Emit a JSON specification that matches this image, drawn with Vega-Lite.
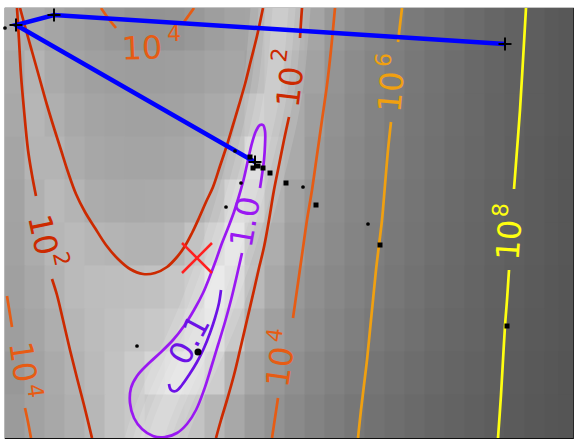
{
"$schema": "https://vega.github.io/schema/vega-lite/v6.json",
"width": 568, "height": 430,
"autosize": {"type": "none"},
"padding": {"left": 5, "top": 8, "right": 2, "bottom": 4},
"background": "white",
"config": {"view": {"stroke": "#111", "strokeWidth": 1.2}},
"encoding": {
  "x": {"field": "x", "type": "quantitative", "scale": {"domain": [5, 573], "nice": false, "zero": false}, "axis": null},
  "y": {"field": "y", "type": "quantitative", "scale": {"domain": [8, 438], "nice": false, "zero": false, "reverse": true}, "axis": null}
},
"datasets": {
"bg": [
{"x":15,"y":29.5,"g":175},{"x":35,"y":29.5,"g":172},{"x":55,"y":29.5,"g":165},{"x":75,"y":29.5,"g":160},{"x":95,"y":29.5,"g":156},{"x":115,"y":29.5,"g":152},{"x":135,"y":29.5,"g":148},{"x":155,"y":29.5,"g":147},{"x":175,"y":29.5,"g":148},{"x":195,"y":29.5,"g":152},{"x":215,"y":29.5,"g":158},{"x":235,"y":29.5,"g":163},{"x":255,"y":29.5,"g":164},{"x":275,"y":29.5,"g":172},{"x":295,"y":29.5,"g":170},{"x":315,"y":29.5,"g":165},{"x":335,"y":29.5,"g":152},{"x":355,"y":29.5,"g":143},{"x":375,"y":29.5,"g":136},{"x":395,"y":29.5,"g":128},{"x":415,"y":29.5,"g":122},{"x":435,"y":29.5,"g":117},{"x":455,"y":29.5,"g":112},{"x":475,"y":29.5,"g":107},{"x":495,"y":29.5,"g":102},{"x":515,"y":29.5,"g":98},{"x":535,"y":29.5,"g":94},{"x":555,"y":29.5,"g":90},{"x":569,"y":29.5,"g":88},
{"x":15,"y":72.5,"g":170},{"x":35,"y":72.5,"g":180},{"x":55,"y":72.5,"g":170},{"x":75,"y":72.5,"g":164},{"x":95,"y":72.5,"g":160},{"x":115,"y":72.5,"g":158},{"x":135,"y":72.5,"g":157},{"x":155,"y":72.5,"g":157},{"x":175,"y":72.5,"g":158},{"x":195,"y":72.5,"g":160},{"x":215,"y":72.5,"g":164},{"x":235,"y":72.5,"g":166},{"x":255,"y":72.5,"g":162},{"x":275,"y":72.5,"g":172},{"x":295,"y":72.5,"g":164},{"x":315,"y":72.5,"g":162},{"x":335,"y":72.5,"g":148},{"x":355,"y":72.5,"g":140},{"x":375,"y":72.5,"g":133},{"x":395,"y":72.5,"g":126},{"x":415,"y":72.5,"g":120},{"x":435,"y":72.5,"g":115},{"x":455,"y":72.5,"g":110},{"x":475,"y":72.5,"g":105},{"x":495,"y":72.5,"g":101},{"x":515,"y":72.5,"g":97},{"x":535,"y":72.5,"g":93},{"x":555,"y":72.5,"g":90},{"x":569,"y":72.5,"g":88},
{"x":15,"y":115.5,"g":168},{"x":35,"y":115.5,"g":182},{"x":55,"y":115.5,"g":175},{"x":75,"y":115.5,"g":168},{"x":95,"y":115.5,"g":164},{"x":115,"y":115.5,"g":162},{"x":135,"y":115.5,"g":161},{"x":155,"y":115.5,"g":161},{"x":175,"y":115.5,"g":162},{"x":195,"y":115.5,"g":165},{"x":215,"y":115.5,"g":170},{"x":235,"y":115.5,"g":174},{"x":255,"y":115.5,"g":180},{"x":275,"y":115.5,"g":170},{"x":295,"y":115.5,"g":170},{"x":315,"y":115.5,"g":158},{"x":335,"y":115.5,"g":146},{"x":355,"y":115.5,"g":138},{"x":375,"y":115.5,"g":131},{"x":395,"y":115.5,"g":125},{"x":415,"y":115.5,"g":119},{"x":435,"y":115.5,"g":114},{"x":455,"y":115.5,"g":109},{"x":475,"y":115.5,"g":105},{"x":495,"y":115.5,"g":100},{"x":515,"y":115.5,"g":97},{"x":535,"y":115.5,"g":93},{"x":555,"y":115.5,"g":90},{"x":569,"y":115.5,"g":88},
{"x":15,"y":158.5,"g":165},{"x":35,"y":158.5,"g":180},{"x":55,"y":158.5,"g":180},{"x":75,"y":158.5,"g":172},{"x":95,"y":158.5,"g":167},{"x":115,"y":158.5,"g":165},{"x":135,"y":158.5,"g":164},{"x":155,"y":158.5,"g":164},{"x":175,"y":158.5,"g":166},{"x":195,"y":158.5,"g":170},{"x":215,"y":158.5,"g":177},{"x":235,"y":158.5,"g":181},{"x":255,"y":158.5,"g":205},{"x":275,"y":158.5,"g":177},{"x":295,"y":158.5,"g":170},{"x":315,"y":158.5,"g":155},{"x":335,"y":158.5,"g":144},{"x":355,"y":158.5,"g":136},{"x":375,"y":158.5,"g":130},{"x":395,"y":158.5,"g":124},{"x":415,"y":158.5,"g":118},{"x":435,"y":158.5,"g":113},{"x":455,"y":158.5,"g":108},{"x":475,"y":158.5,"g":104},{"x":495,"y":158.5,"g":100},{"x":515,"y":158.5,"g":96},{"x":535,"y":158.5,"g":92},{"x":555,"y":158.5,"g":89},{"x":569,"y":158.5,"g":87},
{"x":15,"y":201.5,"g":163},{"x":35,"y":201.5,"g":176},{"x":55,"y":201.5,"g":185},{"x":75,"y":201.5,"g":180},{"x":95,"y":201.5,"g":172},{"x":115,"y":201.5,"g":170},{"x":135,"y":201.5,"g":169},{"x":155,"y":201.5,"g":170},{"x":175,"y":201.5,"g":172},{"x":195,"y":201.5,"g":177},{"x":215,"y":201.5,"g":186},{"x":235,"y":201.5,"g":203},{"x":255,"y":201.5,"g":196},{"x":275,"y":201.5,"g":178},{"x":295,"y":201.5,"g":162},{"x":315,"y":201.5,"g":150},{"x":335,"y":201.5,"g":141},{"x":355,"y":201.5,"g":134},{"x":375,"y":201.5,"g":128},{"x":395,"y":201.5,"g":122},{"x":415,"y":201.5,"g":117},{"x":435,"y":201.5,"g":112},{"x":455,"y":201.5,"g":107},{"x":475,"y":201.5,"g":103},{"x":495,"y":201.5,"g":99},{"x":515,"y":201.5,"g":95},{"x":535,"y":201.5,"g":92},{"x":555,"y":201.5,"g":89},{"x":569,"y":201.5,"g":87},
{"x":15,"y":244.5,"g":162},{"x":35,"y":244.5,"g":172},{"x":55,"y":244.5,"g":182},{"x":75,"y":244.5,"g":186},{"x":95,"y":244.5,"g":182},{"x":115,"y":244.5,"g":180},{"x":135,"y":244.5,"g":178},{"x":155,"y":244.5,"g":178},{"x":175,"y":244.5,"g":182},{"x":195,"y":244.5,"g":194},{"x":215,"y":244.5,"g":203},{"x":235,"y":244.5,"g":217},{"x":255,"y":244.5,"g":183},{"x":275,"y":244.5,"g":173},{"x":295,"y":244.5,"g":158},{"x":315,"y":244.5,"g":147},{"x":335,"y":244.5,"g":139},{"x":355,"y":244.5,"g":132},{"x":375,"y":244.5,"g":126},{"x":395,"y":244.5,"g":121},{"x":415,"y":244.5,"g":116},{"x":435,"y":244.5,"g":111},{"x":455,"y":244.5,"g":106},{"x":475,"y":244.5,"g":102},{"x":495,"y":244.5,"g":98},{"x":515,"y":244.5,"g":95},{"x":535,"y":244.5,"g":92},{"x":555,"y":244.5,"g":89},{"x":569,"y":244.5,"g":87},
{"x":15,"y":287.5,"g":160},{"x":35,"y":287.5,"g":168},{"x":55,"y":287.5,"g":178},{"x":75,"y":287.5,"g":186},{"x":95,"y":287.5,"g":189},{"x":115,"y":287.5,"g":190},{"x":135,"y":287.5,"g":191},{"x":155,"y":287.5,"g":193},{"x":175,"y":287.5,"g":198},{"x":195,"y":287.5,"g":204},{"x":215,"y":287.5,"g":222},{"x":235,"y":287.5,"g":209},{"x":255,"y":287.5,"g":185},{"x":275,"y":287.5,"g":168},{"x":295,"y":287.5,"g":152},{"x":315,"y":287.5,"g":143},{"x":335,"y":287.5,"g":136},{"x":355,"y":287.5,"g":130},{"x":375,"y":287.5,"g":124},{"x":395,"y":287.5,"g":119},{"x":415,"y":287.5,"g":114},{"x":435,"y":287.5,"g":109},{"x":455,"y":287.5,"g":105},{"x":475,"y":287.5,"g":101},{"x":495,"y":287.5,"g":97},{"x":515,"y":287.5,"g":94},{"x":535,"y":287.5,"g":91},{"x":555,"y":287.5,"g":88},{"x":569,"y":287.5,"g":86},
{"x":15,"y":330.5,"g":158},{"x":35,"y":330.5,"g":165},{"x":55,"y":330.5,"g":174},{"x":75,"y":330.5,"g":182},{"x":95,"y":330.5,"g":188},{"x":115,"y":330.5,"g":192},{"x":135,"y":330.5,"g":196},{"x":155,"y":330.5,"g":200},{"x":175,"y":330.5,"g":204},{"x":195,"y":330.5,"g":210},{"x":215,"y":330.5,"g":218},{"x":235,"y":330.5,"g":200},{"x":255,"y":330.5,"g":175},{"x":275,"y":330.5,"g":160},{"x":295,"y":330.5,"g":148},{"x":315,"y":330.5,"g":140},{"x":335,"y":330.5,"g":133},{"x":355,"y":330.5,"g":127},{"x":375,"y":330.5,"g":121},{"x":395,"y":330.5,"g":116},{"x":415,"y":330.5,"g":112},{"x":435,"y":330.5,"g":107},{"x":455,"y":330.5,"g":103},{"x":475,"y":330.5,"g":100},{"x":495,"y":330.5,"g":96},{"x":515,"y":330.5,"g":93},{"x":535,"y":330.5,"g":90},{"x":555,"y":330.5,"g":88},{"x":569,"y":330.5,"g":86},
{"x":15,"y":373.5,"g":152},{"x":35,"y":373.5,"g":162},{"x":55,"y":373.5,"g":170},{"x":75,"y":373.5,"g":178},{"x":95,"y":373.5,"g":186},{"x":115,"y":373.5,"g":194},{"x":135,"y":373.5,"g":203},{"x":155,"y":373.5,"g":213},{"x":175,"y":373.5,"g":217},{"x":195,"y":373.5,"g":216},{"x":215,"y":373.5,"g":205},{"x":235,"y":373.5,"g":180},{"x":255,"y":373.5,"g":165},{"x":275,"y":373.5,"g":152},{"x":295,"y":373.5,"g":143},{"x":315,"y":373.5,"g":135},{"x":335,"y":373.5,"g":129},{"x":355,"y":373.5,"g":123},{"x":375,"y":373.5,"g":117},{"x":395,"y":373.5,"g":113},{"x":415,"y":373.5,"g":109},{"x":435,"y":373.5,"g":105},{"x":455,"y":373.5,"g":101},{"x":475,"y":373.5,"g":98},{"x":495,"y":373.5,"g":95},{"x":515,"y":373.5,"g":92},{"x":535,"y":373.5,"g":89},{"x":555,"y":373.5,"g":87},{"x":569,"y":373.5,"g":85},
{"x":15,"y":416.5,"g":155},{"x":35,"y":416.5,"g":162},{"x":55,"y":416.5,"g":168},{"x":75,"y":416.5,"g":175},{"x":95,"y":416.5,"g":183},{"x":115,"y":416.5,"g":194},{"x":135,"y":416.5,"g":200},{"x":155,"y":416.5,"g":193},{"x":175,"y":416.5,"g":193},{"x":195,"y":416.5,"g":195},{"x":215,"y":416.5,"g":182},{"x":235,"y":416.5,"g":168},{"x":255,"y":416.5,"g":155},{"x":275,"y":416.5,"g":146},{"x":295,"y":416.5,"g":138},{"x":315,"y":416.5,"g":131},{"x":335,"y":416.5,"g":125},{"x":355,"y":416.5,"g":119},{"x":375,"y":416.5,"g":114},{"x":395,"y":416.5,"g":110},{"x":415,"y":416.5,"g":106},{"x":435,"y":416.5,"g":102},{"x":455,"y":416.5,"g":99},{"x":475,"y":416.5,"g":96},{"x":495,"y":416.5,"g":93},{"x":515,"y":416.5,"g":91},{"x":535,"y":416.5,"g":88},{"x":555,"y":416.5,"g":86},{"x":569,"y":416.5,"g":85}
],
"valley": [
{"i":0,"x":281,"y":2},{"i":1,"x":278,"y":40},{"i":2,"x":274,"y":80},{"i":3,"x":268,"y":115},{"i":4,"x":260,"y":150},{"i":5,"x":251,"y":185},{"i":6,"x":241,"y":220},{"i":7,"x":231,"y":252},{"i":8,"x":220,"y":283},{"i":9,"x":208,"y":315},{"i":10,"x":195,"y":345},{"i":11,"x":181,"y":375},{"i":12,"x":169,"y":402},{"i":13,"x":160,"y":425},{"i":14,"x":154,"y":445}
],
"contours": [
{"c":"L2a","level":"1e2","i":0,"x":17,"y":8},{"c":"L2a","level":"1e2","i":1,"x":19,"y":40},{"c":"L2a","level":"1e2","i":2,"x":21,"y":75},{"c":"L2a","level":"1e2","i":3,"x":24,"y":110},{"c":"L2a","level":"1e2","i":4,"x":28,"y":150},{"c":"L2a","level":"1e2","i":5,"x":32,"y":175},{"c":"L2a","level":"1e2","i":6,"x":36,"y":196},
{"c":"L2b","level":"1e2","i":0,"x":52,"y":279},{"c":"L2b","level":"1e2","i":1,"x":57,"y":295},{"c":"L2b","level":"1e2","i":2,"x":63,"y":320},{"c":"L2b","level":"1e2","i":3,"x":70,"y":350},{"c":"L2b","level":"1e2","i":4,"x":77,"y":378},{"c":"L2b","level":"1e2","i":5,"x":84,"y":405},{"c":"L2b","level":"1e2","i":6,"x":92,"y":438},
{"c":"L2U","level":"1e2","i":0,"x":20,"y":8},{"c":"L2U","level":"1e2","i":1,"x":26,"y":30},{"c":"L2U","level":"1e2","i":2,"x":33,"y":55},{"c":"L2U","level":"1e2","i":3,"x":40,"y":80},{"c":"L2U","level":"1e2","i":4,"x":47,"y":105},{"c":"L2U","level":"1e2","i":5,"x":54,"y":128},{"c":"L2U","level":"1e2","i":6,"x":61,"y":150},{"c":"L2U","level":"1e2","i":7,"x":68,"y":172},{"c":"L2U","level":"1e2","i":8,"x":76,"y":194},{"c":"L2U","level":"1e2","i":9,"x":85,"y":212},{"c":"L2U","level":"1e2","i":10,"x":95,"y":228},{"c":"L2U","level":"1e2","i":11,"x":106,"y":245},{"c":"L2U","level":"1e2","i":12,"x":118,"y":259},{"c":"L2U","level":"1e2","i":13,"x":130,"y":269},{"c":"L2U","level":"1e2","i":14,"x":143,"y":274},{"c":"L2U","level":"1e2","i":15,"x":155,"y":273},{"c":"L2U","level":"1e2","i":16,"x":167,"y":267},{"c":"L2U","level":"1e2","i":17,"x":177,"y":257},{"c":"L2U","level":"1e2","i":18,"x":185,"y":246},{"c":"L2U","level":"1e2","i":19,"x":192,"y":233},{"c":"L2U","level":"1e2","i":20,"x":199,"y":218},{"c":"L2U","level":"1e2","i":21,"x":206,"y":202},{"c":"L2U","level":"1e2","i":22,"x":213,"y":187},{"c":"L2U","level":"1e2","i":23,"x":220,"y":166},{"c":"L2U","level":"1e2","i":24,"x":227,"y":145},{"c":"L2U","level":"1e2","i":25,"x":233,"y":125},{"c":"L2U","level":"1e2","i":26,"x":239,"y":105},{"c":"L2U","level":"1e2","i":27,"x":245,"y":84},{"c":"L2U","level":"1e2","i":28,"x":251,"y":60},{"c":"L2U","level":"1e2","i":29,"x":257,"y":36},{"c":"L2U","level":"1e2","i":30,"x":263,"y":8},
{"c":"L2R","level":"1e2","i":0,"x":302,"y":8},{"c":"L2R","level":"1e2","i":1,"x":301,"y":22},{"c":"L2R","level":"1e2","i":2,"x":300,"y":38},
{"c":"L2S","level":"1e2","i":0,"x":289,"y":117},{"c":"L2S","level":"1e2","i":1,"x":284,"y":140},{"c":"L2S","level":"1e2","i":2,"x":279,"y":165},{"c":"L2S","level":"1e2","i":3,"x":274,"y":190},{"c":"L2S","level":"1e2","i":4,"x":269,"y":220},{"c":"L2S","level":"1e2","i":5,"x":264,"y":247},{"c":"L2S","level":"1e2","i":6,"x":259,"y":268},{"c":"L2S","level":"1e2","i":7,"x":254,"y":290},{"c":"L2S","level":"1e2","i":8,"x":247,"y":320},{"c":"L2S","level":"1e2","i":9,"x":240,"y":350},{"c":"L2S","level":"1e2","i":10,"x":234,"y":375},{"c":"L2S","level":"1e2","i":11,"x":227,"y":400},{"c":"L2S","level":"1e2","i":12,"x":221,"y":420},{"c":"L2S","level":"1e2","i":13,"x":216,"y":438},
{"c":"L4T1","level":"1e4","i":0,"x":101,"y":8},{"c":"L4T1","level":"1e4","i":1,"x":108,"y":18},{"c":"L4T1","level":"1e4","i":2,"x":116,"y":28},
{"c":"L4T2","level":"1e4","i":0,"x":194,"y":8},{"c":"L4T2","level":"1e4","i":1,"x":189,"y":15},{"c":"L4T2","level":"1e4","i":2,"x":184,"y":22},
{"c":"L4R1","level":"1e4","i":0,"x":335,"y":8},{"c":"L4R1","level":"1e4","i":1,"x":331,"y":50},{"c":"L4R1","level":"1e4","i":2,"x":327,"y":85},{"c":"L4R1","level":"1e4","i":3,"x":322,"y":120},{"c":"L4R1","level":"1e4","i":4,"x":317,"y":155},{"c":"L4R1","level":"1e4","i":5,"x":312,"y":190},{"c":"L4R1","level":"1e4","i":6,"x":307,"y":220},{"c":"L4R1","level":"1e4","i":7,"x":302,"y":255},{"c":"L4R1","level":"1e4","i":8,"x":297,"y":290},{"c":"L4R1","level":"1e4","i":9,"x":293,"y":318},
{"c":"L4R2","level":"1e4","i":0,"x":278,"y":398},{"c":"L4R2","level":"1e4","i":1,"x":275,"y":418},{"c":"L4R2","level":"1e4","i":2,"x":272,"y":438},
{"c":"L4L1","level":"1e4","i":0,"x":7,"y":296},{"c":"L4L1","level":"1e4","i":1,"x":12,"y":327},
{"c":"L4L2","level":"1e4","i":0,"x":25,"y":408},{"c":"L4L2","level":"1e4","i":1,"x":28,"y":422},{"c":"L4L2","level":"1e4","i":2,"x":31,"y":438},
{"c":"L6a","level":"1e6","i":0,"x":402,"y":8},{"c":"L6a","level":"1e6","i":1,"x":400,"y":25},{"c":"L6a","level":"1e6","i":2,"x":398,"y":42},
{"c":"L6b","level":"1e6","i":0,"x":391,"y":122},{"c":"L6b","level":"1e6","i":1,"x":388,"y":150},{"c":"L6b","level":"1e6","i":2,"x":385,"y":185},{"c":"L6b","level":"1e6","i":3,"x":382,"y":220},{"c":"L6b","level":"1e6","i":4,"x":379,"y":245},{"c":"L6b","level":"1e6","i":5,"x":376,"y":270},{"c":"L6b","level":"1e6","i":6,"x":373,"y":300},{"c":"L6b","level":"1e6","i":7,"x":370,"y":330},{"c":"L6b","level":"1e6","i":8,"x":367,"y":360},{"c":"L6b","level":"1e6","i":9,"x":364,"y":385},{"c":"L6b","level":"1e6","i":10,"x":361,"y":410},{"c":"L6b","level":"1e6","i":11,"x":358,"y":438},
{"c":"L8a","level":"1e8","i":0,"x":526,"y":8},{"c":"L8a","level":"1e8","i":1,"x":523,"y":60},{"c":"L8a","level":"1e8","i":2,"x":520,"y":110},{"c":"L8a","level":"1e8","i":3,"x":517,"y":150},{"c":"L8a","level":"1e8","i":4,"x":514,"y":189},
{"c":"L8b","level":"1e8","i":0,"x":509,"y":270},{"c":"L8b","level":"1e8","i":1,"x":507,"y":300},{"c":"L8b","level":"1e8","i":2,"x":505,"y":326},{"c":"L8b","level":"1e8","i":3,"x":503,"y":360},{"c":"L8b","level":"1e8","i":4,"x":501,"y":395},{"c":"L8b","level":"1e8","i":5,"x":498,"y":438},
{"c":"P1","level":"1","i":0,"x":242,"y":253},{"c":"P1","level":"1","i":1,"x":237,"y":275},{"c":"P1","level":"1","i":2,"x":231,"y":300},{"c":"P1","level":"1","i":3,"x":225,"y":322},{"c":"P1","level":"1","i":4,"x":218,"y":345},{"c":"P1","level":"1","i":5,"x":211,"y":368},{"c":"P1","level":"1","i":6,"x":204,"y":390},{"c":"P1","level":"1","i":7,"x":196,"y":410},{"c":"P1","level":"1","i":8,"x":187,"y":424},{"c":"P1","level":"1","i":9,"x":177,"y":433},{"c":"P1","level":"1","i":10,"x":165,"y":437},{"c":"P1","level":"1","i":11,"x":153,"y":436},{"c":"P1","level":"1","i":12,"x":142,"y":429},{"c":"P1","level":"1","i":13,"x":134,"y":418},{"c":"P1","level":"1","i":14,"x":130,"y":403},{"c":"P1","level":"1","i":15,"x":131,"y":388},{"c":"P1","level":"1","i":16,"x":137,"y":376},{"c":"P1","level":"1","i":17,"x":147,"y":365},{"c":"P1","level":"1","i":18,"x":160,"y":353},{"c":"P1","level":"1","i":19,"x":173,"y":340},{"c":"P1","level":"1","i":20,"x":184,"y":326},{"c":"P1","level":"1","i":21,"x":194,"y":310},{"c":"P1","level":"1","i":22,"x":203,"y":293},{"c":"P1","level":"1","i":23,"x":210,"y":276},{"c":"P1","level":"1","i":24,"x":216,"y":260},{"c":"P1","level":"1","i":25,"x":222,"y":243},{"c":"P1","level":"1","i":26,"x":228,"y":228},{"c":"P1","level":"1","i":27,"x":234,"y":212},{"c":"P1","level":"1","i":28,"x":239,"y":196},{"c":"P1","level":"1","i":29,"x":244,"y":178},{"c":"P1","level":"1","i":30,"x":248,"y":160},{"c":"P1","level":"1","i":31,"x":252,"y":143},{"c":"P1","level":"1","i":32,"x":256,"y":131},{"c":"P1","level":"1","i":33,"x":260,"y":125},{"c":"P1","level":"1","i":34,"x":263,"y":125},{"c":"P1","level":"1","i":35,"x":265,"y":131},{"c":"P1","level":"1","i":36,"x":265,"y":145},{"c":"P1","level":"1","i":37,"x":264,"y":160},{"c":"P1","level":"1","i":38,"x":262,"y":175},{"c":"P1","level":"1","i":39,"x":260,"y":188},
{"c":"P0","level":"0.1","i":0,"x":221,"y":290},{"c":"P0","level":"0.1","i":1,"x":219,"y":303},{"c":"P0","level":"0.1","i":2,"x":215,"y":318},{"c":"P0","level":"0.1","i":3,"x":210,"y":333},{"c":"P0","level":"0.1","i":4,"x":204,"y":348},{"c":"P0","level":"0.1","i":5,"x":197,"y":362},{"c":"P0","level":"0.1","i":6,"x":189,"y":375},{"c":"P0","level":"0.1","i":7,"x":182,"y":385},{"c":"P0","level":"0.1","i":8,"x":176,"y":391},{"c":"P0","level":"0.1","i":9,"x":171,"y":390},{"c":"P0","level":"0.1","i":10,"x":169,"y":384}
],
"labels": [
{"id":"a","text":"10","level":"1e4","x":142,"y":49},
{"id":"a","text":"4","level":"1e4","x":174,"y":34,"sup":true},
{"id":"b","text":"10","level":"1e2","x":291,"y":87},
{"id":"b","text":"2","level":"1e2","x":280,"y":55,"sup":true},
{"id":"c","text":"10","level":"1e6","x":392,"y":92},
{"id":"c","text":"6","level":"1e6","x":384,"y":60,"sup":true},
{"id":"d","text":"1.0","level":"1","x":246,"y":222},
{"id":"e","text":"10","level":"1e8","x":510,"y":240},
{"id":"e","text":"8","level":"1e8","x":501,"y":210,"sup":true},
{"id":"f","text":"10","level":"1e2","x":42,"y":235},
{"id":"f","text":"2","level":"1e2","x":61,"y":259,"sup":true},
{"id":"g","text":"0.1","level":"0.1","x":190,"y":340},
{"id":"h","text":"10","level":"1e4","x":281,"y":367},
{"id":"h","text":"4","level":"1e4","x":275,"y":335,"sup":true},
{"id":"i","text":"10","level":"1e4","x":22,"y":362},
{"id":"i","text":"4","level":"1e4","x":35,"y":391,"sup":true}
],
"path": [
{"i":0,"x":505,"y":44},{"i":1,"x":54,"y":15},{"i":2,"x":16,"y":25},{"i":3,"x":255,"y":162}
],
"dots": [
{"x":235,"y":151},{"x":241,"y":183},{"x":303,"y":187},{"x":226,"y":207},{"x":368,"y":224},{"x":137,"y":346},{"x":5,"y":28}
],
"squares": [
{"x":270,"y":173},{"x":286,"y":183},{"x":316,"y":205},{"x":380,"y":245},{"x":507,"y":326},{"x":250,"y":157},{"x":258,"y":166},{"x":263,"y":168},{"x":253,"y":168}
],
"best": [{"x":198,"y":352}],
"start": [{"x":197,"y":258}]
},
"layer": [
{"data": {"name": "bg"}, "mark": {"type": "rect", "width": 21, "height": 44, "clip": true},
 "encoding": {"fill": {"field": "g", "type": "quantitative", "scale": {"domain": [0, 255], "range": ["#000000", "#ffffff"], "interpolate": "rgb"}, "legend": null}}},
{"data": {"name": "valley"}, "mark": {"type": "line", "stroke": "white", "strokeWidth": 60, "strokeOpacity": 0.12, "interpolate": "catmull-rom", "clip": true}, "encoding": {"order": {"field": "i", "type": "quantitative"}}},
{"data": {"name": "valley"}, "mark": {"type": "line", "stroke": "white", "strokeWidth": 44, "strokeOpacity": 0.12, "interpolate": "catmull-rom", "clip": true}, "encoding": {"order": {"field": "i", "type": "quantitative"}}},
{"data": {"name": "valley"}, "mark": {"type": "line", "stroke": "white", "strokeWidth": 30, "strokeOpacity": 0.12, "interpolate": "catmull-rom", "clip": true}, "encoding": {"order": {"field": "i", "type": "quantitative"}}},
{"data": {"name": "valley"}, "mark": {"type": "line", "stroke": "white", "strokeWidth": 16, "strokeOpacity": 0.12, "interpolate": "catmull-rom", "clip": true}, "encoding": {"order": {"field": "i", "type": "quantitative"}}},
{"data": {"name": "contours"}, "mark": {"type": "line", "strokeWidth": 2.7, "clip": true, "interpolate": "catmull-rom"},
 "encoding": {"detail": {"field": "c"}, "order": {"field": "i", "type": "quantitative"},
   "stroke": {"field": "level", "type": "nominal", "scale": {"domain": ["0.1", "1", "1e2", "1e4", "1e6", "1e8"], "range": ["#6c12e6", "#9a18f2", "#cc2a00", "#e65c14", "#f0a010", "#ffff10"]}, "legend": null}}},
{"data": {"name": "labels"}, "transform": [{"filter": "datum.id == 'a' && !datum.sup"}], "mark": {"type": "text", "angle": -2, "fontSize": 32, "font": "DejaVu Sans", "align": "center", "baseline": "middle"},
 "encoding": {"text": {"field": "text"}, "color": {"field": "level", "type": "nominal", "scale": {"domain": ["0.1", "1", "1e2", "1e4", "1e6", "1e8"], "range": ["#6c12e6", "#9a18f2", "#cc2a00", "#e65c14", "#f0a010", "#ffff10"]}, "legend": null}}},
{"data": {"name": "labels"}, "transform": [{"filter": "datum.id == 'a' && datum.sup"}], "mark": {"type": "text", "angle": -2, "fontSize": 22, "font": "DejaVu Sans", "align": "center", "baseline": "middle"},
 "encoding": {"text": {"field": "text"}, "color": {"field": "level", "type": "nominal", "legend": null}}},
{"data": {"name": "labels"}, "transform": [{"filter": "datum.id == 'b' && !datum.sup"}], "mark": {"type": "text", "angle": -83, "fontSize": 32, "font": "DejaVu Sans", "align": "center", "baseline": "middle"},
 "encoding": {"text": {"field": "text"}, "color": {"field": "level", "type": "nominal", "legend": null}}},
{"data": {"name": "labels"}, "transform": [{"filter": "datum.id == 'b' && datum.sup"}], "mark": {"type": "text", "angle": -83, "fontSize": 22, "font": "DejaVu Sans", "align": "center", "baseline": "middle"},
 "encoding": {"text": {"field": "text"}, "color": {"field": "level", "type": "nominal", "legend": null}}},
{"data": {"name": "labels"}, "transform": [{"filter": "datum.id == 'c' && !datum.sup"}], "mark": {"type": "text", "angle": -85, "fontSize": 32, "font": "DejaVu Sans", "align": "center", "baseline": "middle"},
 "encoding": {"text": {"field": "text"}, "color": {"field": "level", "type": "nominal", "legend": null}}},
{"data": {"name": "labels"}, "transform": [{"filter": "datum.id == 'c' && datum.sup"}], "mark": {"type": "text", "angle": -85, "fontSize": 22, "font": "DejaVu Sans", "align": "center", "baseline": "middle"},
 "encoding": {"text": {"field": "text"}, "color": {"field": "level", "type": "nominal", "legend": null}}},
{"data": {"name": "labels"}, "transform": [{"filter": "datum.id == 'd'"}], "mark": {"type": "text", "angle": -80, "fontSize": 32, "font": "DejaVu Sans", "align": "center", "baseline": "middle"},
 "encoding": {"text": {"field": "text"}, "color": {"field": "level", "type": "nominal", "legend": null}}},
{"data": {"name": "labels"}, "transform": [{"filter": "datum.id == 'e' && !datum.sup"}], "mark": {"type": "text", "angle": -86, "fontSize": 32, "font": "DejaVu Sans", "align": "center", "baseline": "middle"},
 "encoding": {"text": {"field": "text"}, "color": {"field": "level", "type": "nominal", "legend": null}}},
{"data": {"name": "labels"}, "transform": [{"filter": "datum.id == 'e' && datum.sup"}], "mark": {"type": "text", "angle": -86, "fontSize": 22, "font": "DejaVu Sans", "align": "center", "baseline": "middle"},
 "encoding": {"text": {"field": "text"}, "color": {"field": "level", "type": "nominal", "legend": null}}},
{"data": {"name": "labels"}, "transform": [{"filter": "datum.id == 'f' && !datum.sup"}], "mark": {"type": "text", "angle": 78, "fontSize": 32, "font": "DejaVu Sans", "align": "center", "baseline": "middle"},
 "encoding": {"text": {"field": "text"}, "color": {"field": "level", "type": "nominal", "legend": null}}},
{"data": {"name": "labels"}, "transform": [{"filter": "datum.id == 'f' && datum.sup"}], "mark": {"type": "text", "angle": 78, "fontSize": 22, "font": "DejaVu Sans", "align": "center", "baseline": "middle"},
 "encoding": {"text": {"field": "text"}, "color": {"field": "level", "type": "nominal", "legend": null}}},
{"data": {"name": "labels"}, "transform": [{"filter": "datum.id == 'g'"}], "mark": {"type": "text", "angle": -62, "fontSize": 32, "font": "DejaVu Sans", "align": "center", "baseline": "middle"},
 "encoding": {"text": {"field": "text"}, "color": {"field": "level", "type": "nominal", "legend": null}}},
{"data": {"name": "labels"}, "transform": [{"filter": "datum.id == 'h' && !datum.sup"}], "mark": {"type": "text", "angle": -82, "fontSize": 32, "font": "DejaVu Sans", "align": "center", "baseline": "middle"},
 "encoding": {"text": {"field": "text"}, "color": {"field": "level", "type": "nominal", "legend": null}}},
{"data": {"name": "labels"}, "transform": [{"filter": "datum.id == 'h' && datum.sup"}], "mark": {"type": "text", "angle": -82, "fontSize": 22, "font": "DejaVu Sans", "align": "center", "baseline": "middle"},
 "encoding": {"text": {"field": "text"}, "color": {"field": "level", "type": "nominal", "legend": null}}},
{"data": {"name": "labels"}, "transform": [{"filter": "datum.id == 'i' && !datum.sup"}], "mark": {"type": "text", "angle": 82, "fontSize": 32, "font": "DejaVu Sans", "align": "center", "baseline": "middle"},
 "encoding": {"text": {"field": "text"}, "color": {"field": "level", "type": "nominal", "legend": null}}},
{"data": {"name": "labels"}, "transform": [{"filter": "datum.id == 'i' && datum.sup"}], "mark": {"type": "text", "angle": 82, "fontSize": 22, "font": "DejaVu Sans", "align": "center", "baseline": "middle"},
 "encoding": {"text": {"field": "text"}, "color": {"field": "level", "type": "nominal", "legend": null}}},
{"data": {"name": "start"}, "mark": {"type": "point", "shape": "M-1,-1L1,1M-1,1L1,-1", "size": 900, "stroke": "#ff2020", "strokeWidth": 2.5, "filled": false, "opacity": 1}},
{"data": {"name": "path"}, "mark": {"type": "line", "stroke": "#0000ff", "strokeWidth": 4.5, "clip": true},
 "encoding": {"order": {"field": "i", "type": "quantitative"}}},
{"data": {"name": "path"}, "mark": {"type": "point", "shape": "M-1,0L1,0M0,-1L0,1", "size": 169, "stroke": "black", "strokeWidth": 2, "filled": false, "opacity": 1}},
{"data": {"name": "squares"}, "mark": {"type": "square", "size": 25, "color": "black", "opacity": 1}},
{"data": {"name": "dots"}, "mark": {"type": "circle", "size": 14, "color": "black", "opacity": 1}},
{"data": {"name": "best"}, "mark": {"type": "circle", "size": 50, "color": "black", "opacity": 1}}
]
}
